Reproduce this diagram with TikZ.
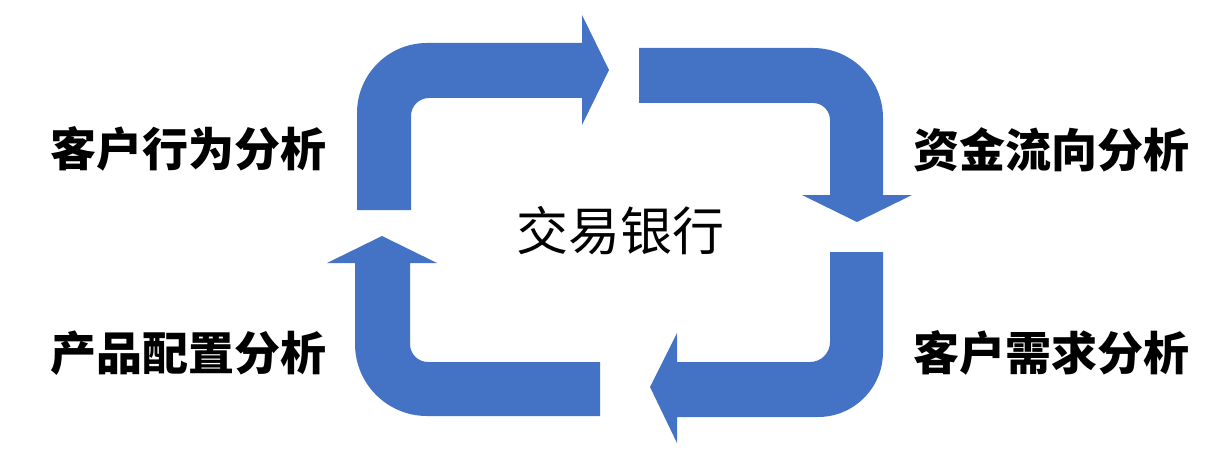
\documentclass[tikz,border=0pt]{standalone}
\usepackage{fontspec}
\usepackage{tikz}
\newfontfamily\cjk{Noto Sans CJK SC}
\definecolor{cycleblue}{RGB}{68,114,196}

\begin{document}
\begin{tikzpicture}[x=1pt, y=1pt,
		bentarrow/.style = {fill = cycleblue},
		sidetext/.style = {inner sep = 0pt, font = \cjk\bfseries\fontsize{46}{46}\selectfont},
		hubtext/.style = {inner sep = 0pt, font = \cjk\fontsize{52}{52}\selectfont}]
				\fill[white] (0, 0) rectangle (1218, 456);
				\useasboundingbox (0, 0) rectangle (1218, 456);
				% top left
				\fill[bentarrow] (357, 246) -- (357, 343) arc[start angle = 180, end angle = 90, radius = 70]
					-- (582, 413) -- (582, 441) -- (609, 386) -- (582, 331) -- (582, 358)
					-- (429, 358) arc[start angle = 90, end angle = 180, radius = 18] -- (411, 246) -- cycle;
				% top right
				\fill[bentarrow] (639, 408) -- (813, 408) arc[start angle = 90, end angle = 0, radius = 70]
					-- (883, 261) -- (912, 261) -- (857, 234) -- (802, 261) -- (830, 261)
					-- (830, 336) arc[start angle = 0, end angle = 90, radius = 17] -- (639, 353) -- cycle;
				% bottom right
				\fill[bentarrow] (830, 204) -- (883, 204) -- (883, 104) arc[start angle = 0, end angle = -90, radius = 65]
					-- (677, 39) -- (677, 13) -- (650, 69) -- (677, 123) -- (677, 94)
					-- (810, 94) arc[start angle = -90, end angle = 0, radius = 20] -- cycle;
				% bottom left
				\fill[bentarrow] (600, 94) -- (600, 40) -- (427, 40) arc[start angle = 270, end angle = 180, radius = 72]
					-- (355, 193) -- (327, 193) -- (382, 220) -- (437, 193) -- (410, 193)
					-- (410, 112) arc[start angle = 180, end angle = 270, radius = 18] -- cycle;
				% texts
				\node[hubtext] (hub) at (620, 225) {交易银行};
				\node[sidetext] (behaviour) at (188, 307) {客户行为分析};
				\node[sidetext] (product) at (188, 103) {产品配置分析};
				\node[sidetext] (fundflow) at (1051, 306) {资金流向分析};
				\node[sidetext] (demand) at (1051, 103) {客户需求分析};
			\end{tikzpicture}
\end{document}
